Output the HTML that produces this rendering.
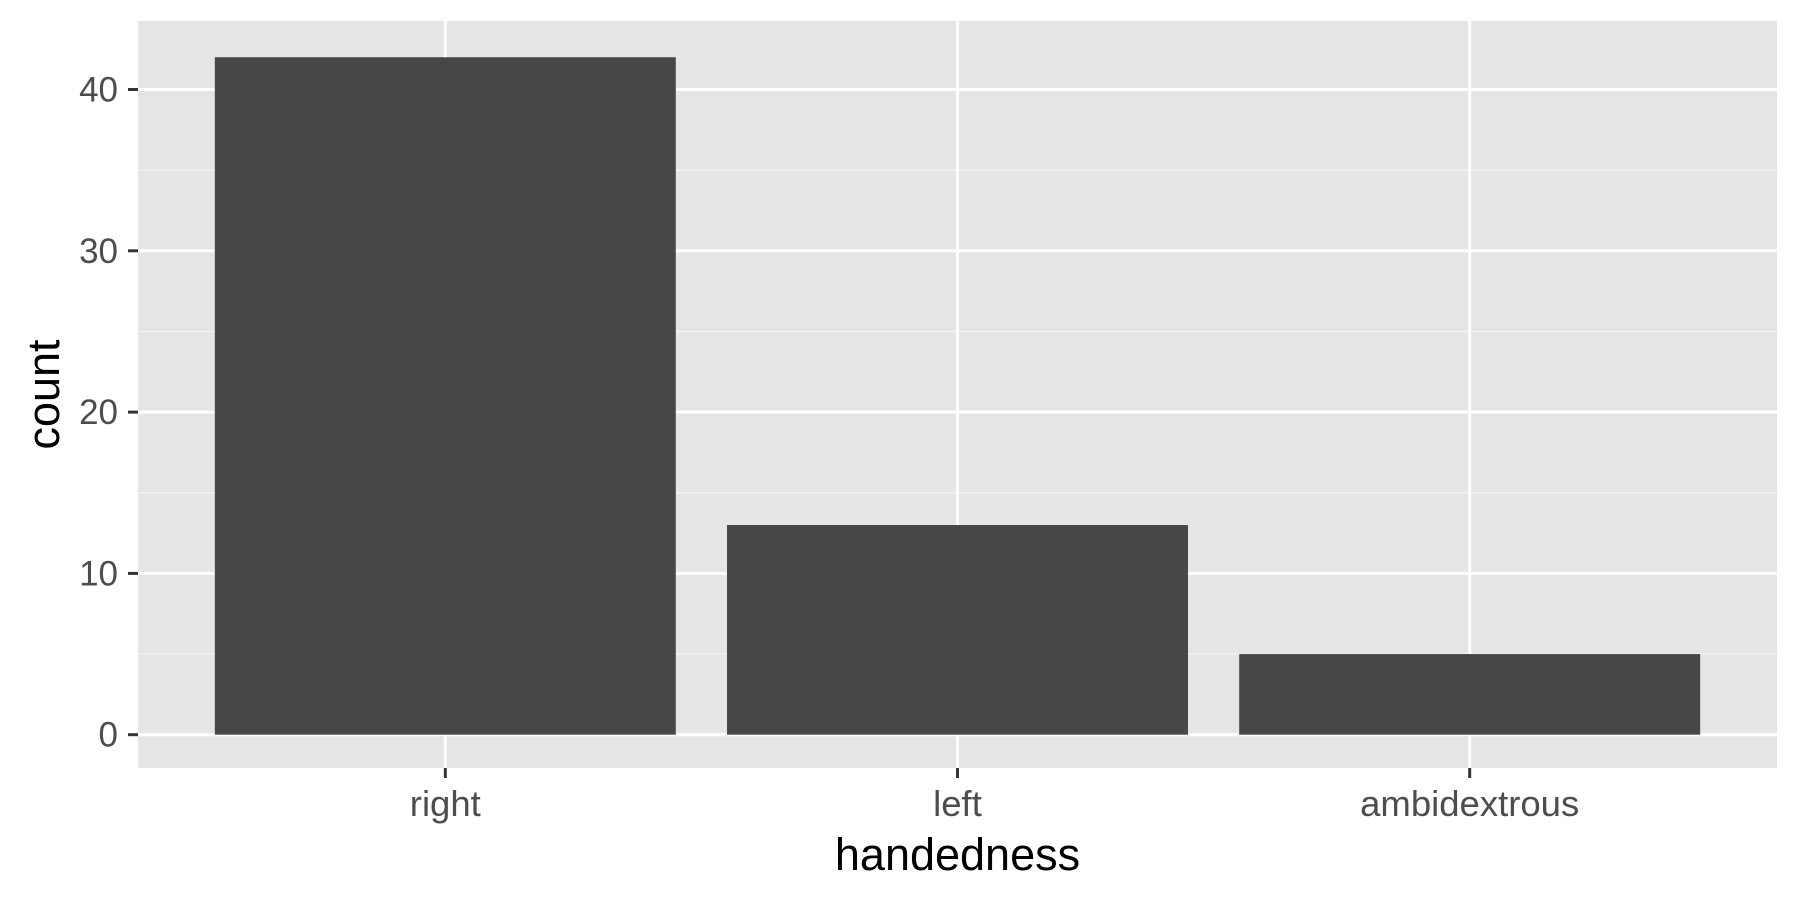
<!DOCTYPE html>
<html><head><meta charset="utf-8"><style>
html,body{margin:0;padding:0;background:#fff;}
svg{display:block;font-family:"Liberation Sans",Arial,sans-serif;}
</style></head><body>
<svg id="chart" width="1800" height="900" viewBox="0 0 1800 900" xmlns="http://www.w3.org/2000/svg"></svg>
<script>
const categories = ["right", "left", "ambidextrous"];
const counts = [42, 13, 5];
const yTicks = [0, 10, 20, 30, 40];

const svg = document.getElementById('chart');
const NS = 'http://www.w3.org/2000/svg';
const P = {l:138, r:1777, t:21, b:768};
const y0px = 734.7, perUnit = 16.13;
function y(v){ return y0px - v*perUnit; }
const step = (P.r-P.l)/(categories.length+0.2);
function x(i){ return P.l + step*0.6 + step*i; }
const bw = step*0.9;
function mk(tag, attrs, parent){
  const e = document.createElementNS(NS, tag);
  for (const k in attrs) e.setAttribute(k, attrs[k]);
  (parent||svg).appendChild(e); return e;
}
const bg = mk('rect',{x:P.l,y:P.t,width:P.r-P.l,height:P.b-P.t,fill:'#e5e5e5'});


for (let i=0;i<yTicks.length-1;i++){
  const v=(yTicks[i]+yTicks[i+1])/2;
  const l=mk('line',{x1:P.l,x2:P.r,y1:y(v),y2:y(v),stroke:'#f2f2f2','stroke-width':1.5});
  
  
}
yTicks.forEach(v=>{
  const l=mk('line',{x1:P.l,x2:P.r,y1:y(v),y2:y(v),stroke:'#fff','stroke-width':3});
  
  
  const t=mk('line',{x1:128,x2:P.l,y1:y(v),y2:y(v),stroke:'#333','stroke-width':3});
  
  
  const tx=mk('text',{x:118,y:y(v)+12,'text-anchor':'end','font-size':35,fill:'#4d4d4d'});
  tx.textContent=v;
  
  
});
categories.forEach((c,i)=>{
  const l=mk('line',{x1:x(i),x2:x(i),y1:P.t,y2:P.b,stroke:'#fff','stroke-width':3});
  
  
});
categories.forEach((c,i)=>{
  const r=mk('rect',{x:x(i)-bw/2,y:y(counts[i]),width:bw,height:y(0)-y(counts[i]),fill:'#474747'});
  
  
  const t=mk('line',{x1:x(i),x2:x(i),y1:P.b,y2:P.b+10,stroke:'#333','stroke-width':3});
  
  
  const tx=mk('text',{x:x(i),y:816,'text-anchor':'middle','font-size':36.5,fill:'#4d4d4d'});
  tx.textContent=c;
  
  
});
const xt=mk('text',{x:(P.l+P.r)/2,y:870,'text-anchor':'middle','font-size':45,fill:'#000'});
xt.textContent='handedness';


const yt=mk('text',{x:0,y:0,'text-anchor':'middle','font-size':45,fill:'#000',transform:'translate(59,'+((P.t+P.b)/2)+') rotate(-90)'});
yt.textContent='count';


</script>
</body></html>
